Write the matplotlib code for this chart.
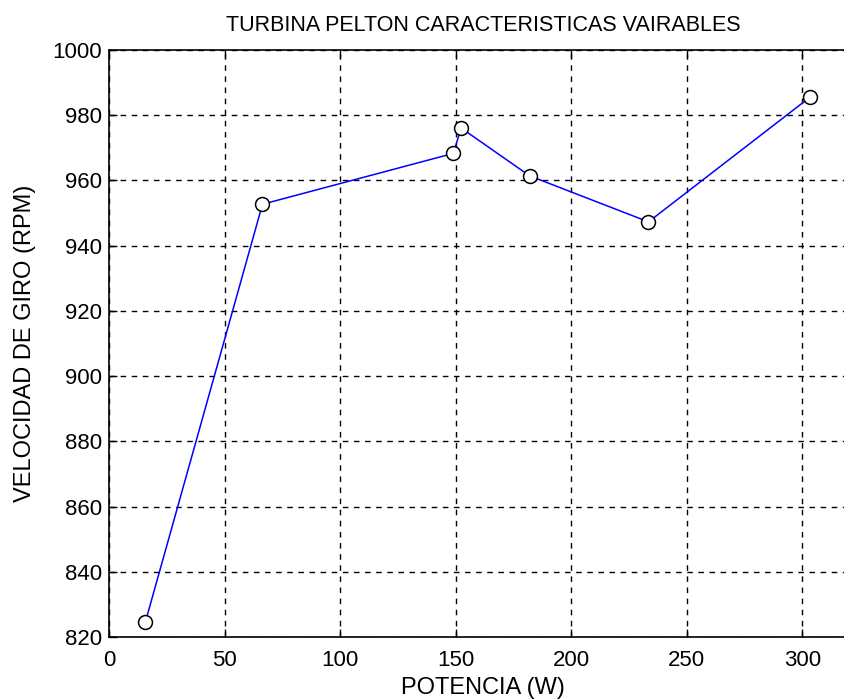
import matplotlib.pyplot as plt

# Potencia (W) vs velocidad de giro (RPM)
potencia = [15.7, 66.4, 149.0, 152.3, 182.0, 233.4, 303.2]
velocidad = [824.5, 952.7, 968.3, 976.1, 961.4, 947.3, 985.5]
xticks = [0, 50, 100, 150, 200, 250, 300]
yticks = [820, 840, 860, 880, 900, 920, 940, 960, 980, 1000]

plt.rcParams.update({"font.family": "Liberation Sans", "font.size": 16})
fig = plt.figure(figsize=(8.44, 7.0), dpi=100)
# axes run past the right edge, as in the cropped original
ax = fig.add_axes([109/844, 1-637/700, (918-109)/844, (637-50)/700])

ax.plot(potencia, velocidad, color="#0000ff", linewidth=1.1,
        marker="o", markersize=10, markerfacecolor="white",
        markeredgecolor="black", markeredgewidth=1.1)

ax.set_xlim(0, 350)
ax.set_ylim(820, 1000)
ax.set_xticks(xticks)
ax.set_yticks(yticks)
ax.grid(True, color="black", linestyle=(0, (4, 4)), linewidth=1.0)
ax.tick_params(direction="in", length=6, width=1, top=True, right=True, pad=5)
ax.tick_params(axis="x", pad=9)
for s in ax.spines.values():
    s.set_linewidth(1.2)

ax.set_title("TURBINA PELTON CARACTERISTICAS VAIRABLES", fontsize=15.5, pad=14,
             x=(483-109)/(918-109))
ax.set_xlabel("POTENCIA (W)", fontsize=17, labelpad=5, x=(483-109)/(918-109))
ax.set_ylabel("VELOCIDAD DE GIRO (RPM)", fontsize=17, labelpad=12)

fig.savefig("out.png", dpi=100)
